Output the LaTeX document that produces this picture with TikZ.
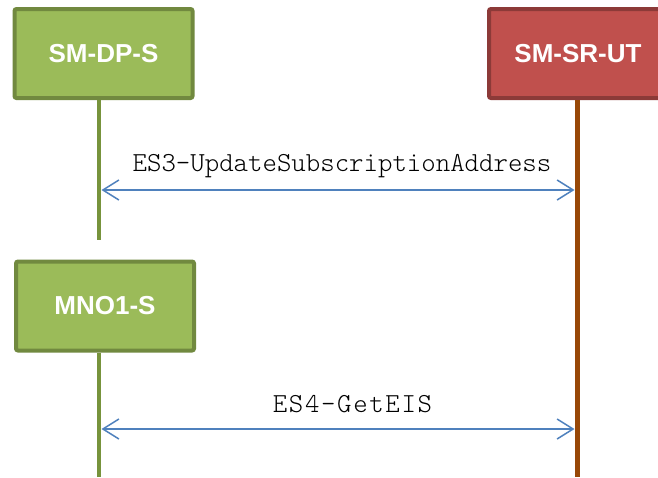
\documentclass[tikz,border=0pt]{standalone}
\usepackage{fontspec}
\setmainfont{Liberation Sans}
\newfontfamily\monofont{Latin Modern Mono Light}
\usetikzlibrary{arrows.meta}

\definecolor{greenfill}{HTML}{9BBB59}
\definecolor{greenedge}{HTML}{71893F}
\definecolor{greenline}{HTML}{77933C}
\definecolor{redfill}{HTML}{C0504D}
\definecolor{rededge}{HTML}{8C3A38}
\definecolor{brownline}{HTML}{984807}
\definecolor{msgblue}{HTML}{4F81BD}

\begin{document}
\begin{tikzpicture}[
    x=1pt, y=-1pt,
    entity/.style={
        draw, rectangle, line width=4pt, rounded corners=2pt,
        minimum width=178pt, minimum height=89pt,
        text=white, font=\fontsize{26}{31}\selectfont\bfseries
    },
    greenbox/.style={entity, fill=greenfill, draw=greenedge},
    redbox/.style={entity, fill=redfill, draw=rededge},
    greenlife/.style={draw=greenline, line width=4.5pt},
    brownlife/.style={draw=brownline, line width=5pt},
    msg/.style={draw=msgblue, line width=1.5pt,
        {Straight Barb[length=16pt, width=20pt]}-{Straight Barb[length=16pt, width=20pt]}},
    msglabel/.style={anchor=base, inner sep=0pt, font=\monofont\fontsize{27.5}{32}\selectfont}
]

\clip (0,0) rectangle (658,477);
\fill[white] (0,0) rectangle (658,477);

% -------------------------
% Entities
% -------------------------

% 1. SM-DP-S (Top Left)
\node[greenbox] (dp) at (103.5, 53.5) {SM-DP-S};

% 2. SM-SR-UT (Top Right)
\node[redbox] (srut) at (578, 53.5) {SM-SR-UT};

% 3. MNO1-S (Bottom Left)
\node[greenbox] (mno) at (105, 306) {MNO1-S};

% -------------------------
% Lifelines
% -------------------------
\coordinate (dpEnd) at (99, 240);
\coordinate (srutEnd) at (577, 477);
\coordinate (mnoEnd) at (99, 477);

\draw[greenlife] (dpEnd |- dp.south) -- (dpEnd);
\draw[brownlife] (srutEnd |- srut.south) -- (srutEnd);
\draw[greenlife] (mnoEnd |- mno.south) -- (mnoEnd);

% -------------------------
% Messages
% -------------------------

% SM-DP-S <-> SM-SR-UT
\coordinate (dpMsg) at (101.5, 190);
\coordinate (srutMsgA) at (574.5, 190);
\draw[msg] (dpMsg) -- (srutMsgA);
\node[msglabel] (es3) at (342, 171) {ES3-UpdateSubscriptionAddress};

% MNO1-S <-> SM-SR-UT
\coordinate (mnoMsg) at (101.5, 429);
\coordinate (srutMsgB) at (574.5, 429);
\draw[msg] (mnoMsg) -- (srutMsgB);
\node[msglabel, font=\monofont\fontsize{27.5}{32}\addfontfeature{LetterSpace=6}\selectfont] (es4) at (352.5, 412) {ES4-GetEIS};

\end{tikzpicture}
\end{document}
